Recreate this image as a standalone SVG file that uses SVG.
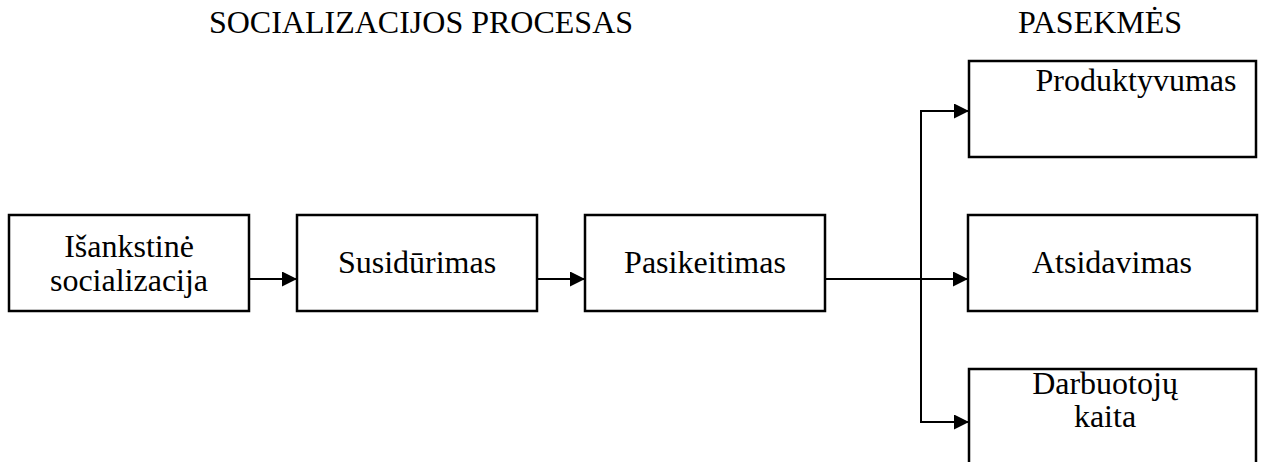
<svg xmlns="http://www.w3.org/2000/svg" width="1261" height="462" viewBox="0 0 1261 462">
<style>
.box{fill:#fff;stroke:#000;stroke-width:2.5}
.t{font-family:'Liberation Serif','Times New Roman','DejaVu Serif',serif;font-size:32px;fill:#000;text-anchor:middle}
.c{fill:none;stroke:#000;stroke-width:2}
</style>
<defs>
<marker id="ah" markerUnits="userSpaceOnUse" markerWidth="16" markerHeight="15" refX="15" refY="7.5" orient="auto">
<path d="M0,0 L15,7.5 L0,15 Z" fill="#000"/>
</marker>
</defs>
<rect width="1261" height="462" fill="#fff"/>
<text class="t" x="421" y="33">SOCIALIZACIJOS PROCESAS</text>
<text class="t" x="1100" y="33">PASEKMĖS</text>
<g id="connectors">
<line class="c" x1="249" y1="279" x2="297" y2="279" marker-end="url(#ah)"/>
<line class="c" x1="537" y1="279" x2="585" y2="279" marker-end="url(#ah)"/>
<line class="c" x1="825" y1="279" x2="968" y2="279" marker-end="url(#ah)"/>
<line class="c" x1="921" y1="111" x2="921" y2="422"/>
<line class="c" x1="920" y1="111" x2="969" y2="111" marker-end="url(#ah)"/>
<line class="c" x1="920" y1="422" x2="969" y2="422" marker-end="url(#ah)"/>
</g>
<g id="n1">
<rect class="box" x="9" y="215" width="240" height="96"/>
<text class="t" x="129" y="257">Išankstinė</text>
<text class="t" x="129" y="291">socializacija</text>
</g>
<g id="n2">
<rect class="box" x="297" y="215" width="240" height="96"/>
<text class="t" x="417" y="273">Susidūrimas</text>
</g>
<g id="n3">
<rect class="box" x="585" y="215" width="240" height="96"/>
<text class="t" x="705" y="273">Pasikeitimas</text>
</g>
<g id="n4">
<rect class="box" x="969" y="61" width="287" height="96"/>
<text class="t" x="1136" y="91">Produktyvumas</text>
</g>
<g id="n5">
<rect class="box" x="968" y="215" width="289" height="96"/>
<text class="t" x="1112" y="273">Atsidavimas</text>
</g>
<g id="n6">
<rect class="box" x="969" y="369" width="287" height="100"/>
<text class="t" x="1105" y="394">Darbuotojų</text>
<text class="t" x="1105" y="427">kaita</text>
</g>
</svg>
